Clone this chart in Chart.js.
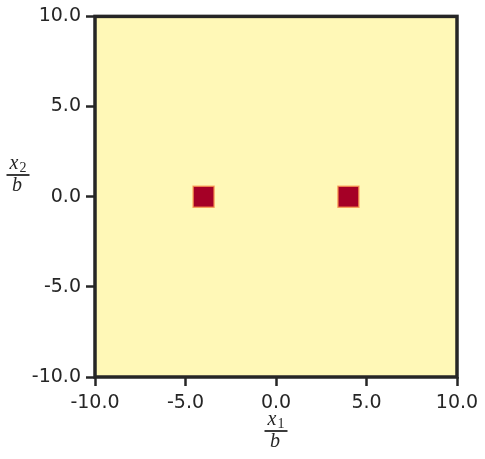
<!DOCTYPE html>
<html>
<head>
<meta charset="utf-8">
<script src="https://cdn.jsdelivr.net/npm/chart.js@4"></script>
<style>
  html, body { margin: 0; padding: 0; background: #fff; }
  #wrap { width: 485px; height: 459px; }
</style>
</head>
<body>
<div id="wrap"><canvas id="myChart" width="485" height="459"></canvas></div>
<script>
'use strict';

// centres of the two dark cells, in units of b
let cellX = [-4, 4];
let cellY = [0, 0];
let axisMin = -10;
let axisMax = 10;
let tickStep = 5;

const inkColor = '#262626';
const fieldColor = '#fff8b7';

// paint the yellow field and the black frame round the plot
const framePlugin = {
  id: 'framePlugin',
  beforeDatasetsDraw(chart) {
    const a = chart.chartArea;
    const ctx = chart.ctx;
    ctx.save();
    ctx.fillStyle = fieldColor;
    ctx.fillRect(a.left, a.top, a.right - a.left, a.bottom - a.top);
    ctx.restore();
  },
  afterDraw(chart) {
    const a = chart.chartArea;
    const ctx = chart.ctx;
    ctx.save();
    ctx.strokeStyle = inkColor;
    ctx.lineWidth = 3.5;
    ctx.strokeRect(a.left, a.top, a.right - a.left, a.bottom - a.top);

    // axis titles x1/b and x2/b as small fractions
    function fraction(cx, barY, sub) {
      ctx.fillStyle = inkColor;
      ctx.strokeStyle = inkColor;
      ctx.textAlign = 'left';
      ctx.textBaseline = 'alphabetic';
      ctx.font = 'italic 20px "Liberation Serif"';
      const wx = ctx.measureText('x').width;
      ctx.font = '14px "Liberation Serif"';
      const ws = ctx.measureText(sub).width;
      const total = wx + ws + 1;
      let left = cx - total / 2;
      ctx.font = 'italic 20px "Liberation Serif"';
      ctx.fillText('x', left, barY - 6);
      ctx.font = '14px "Liberation Serif"';
      ctx.fillText(sub, left + wx + 1, barY - 3);
      ctx.lineWidth = 1.8;
      ctx.beginPath();
      ctx.moveTo(cx - 11.5, barY);
      ctx.lineTo(cx + 11.5, barY);
      ctx.stroke();
      ctx.font = 'italic 20px "Liberation Serif"';
      ctx.textAlign = 'center';
      ctx.fillText('b', cx - 1, barY + 16);
    }
    fraction((a.left + a.right) / 2, 431, '1');
    fraction(18, 175, '2');
    ctx.restore();
  }
};

const ctx = document.getElementById('myChart').getContext('2d');
const myChart = new Chart(ctx, {
  type: 'scatter',
  data: {
    datasets: [{
      data: cellX.map((x, i) => ({ x: x, y: cellY[i] })),
      pointStyle: 'rect',
      pointRadius: 14.8,
      pointHoverRadius: 14.8,
      backgroundColor: '#a50026',
      borderColor: 'rgba(250,150,80,0.8)',
      borderWidth: 1.5
    }]
  },
  options: {
    responsive: false,
    animation: false,
    events: [],
    layout: { padding: { left: 0, top: 15, right: 28, bottom: 0 } },
    plugins: {
      legend: { display: false },
      tooltip: { enabled: false }
    },
    scales: {
      x: {
        type: 'linear',
        min: axisMin,
        max: axisMax,
        afterFit(scale) { scale.height = 82; },
        border: { display: false },
        grid: {
          drawOnChartArea: false,
          drawTicks: true,
          tickLength: 9,
          tickWidth: 2.5,
          tickColor: inkColor
        },
        ticks: {
          stepSize: tickStep,
          padding: 6,
          color: inkColor,
          font: { family: 'DejaVu Sans', size: 19 },
          maxRotation: 0,
          callback: v => v.toFixed(1)
        }
      },
      y: {
        type: 'linear',
        min: axisMin,
        max: axisMax,
        afterFit(scale) { scale.width = 95; },
        border: { display: false },
        grid: {
          drawOnChartArea: false,
          drawTicks: true,
          tickLength: 9,
          tickWidth: 2.5,
          tickColor: inkColor
        },
        ticks: {
          stepSize: tickStep,
          padding: 5,
          color: inkColor,
          font: { family: 'DejaVu Sans', size: 19 },
          callback: v => v.toFixed(1)
        }
      }
    }
  },
  plugins: [framePlugin]
});
</script>
</body>
</html>
